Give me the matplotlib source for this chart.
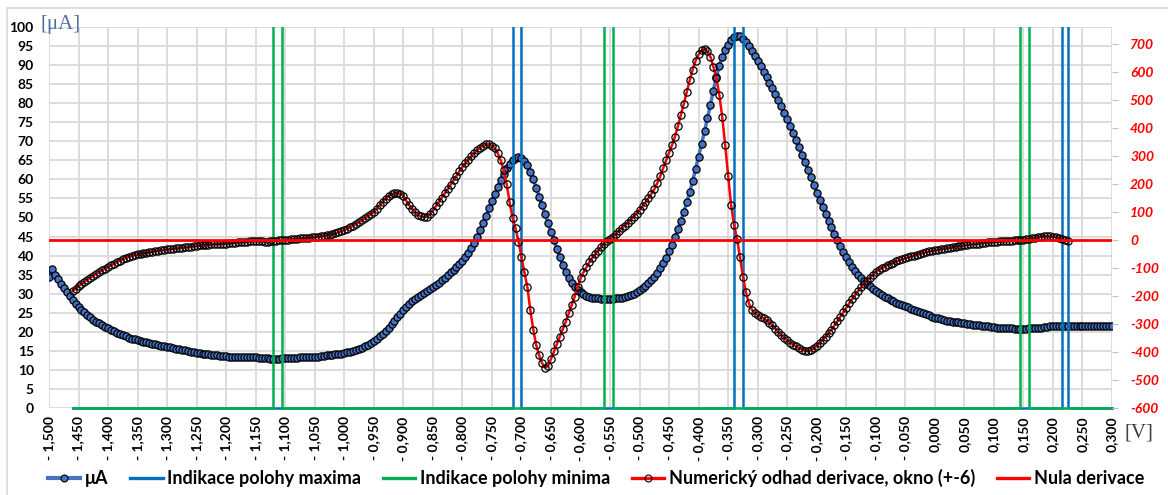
import numpy as np
import matplotlib.pyplot as plt
from matplotlib.lines import Line2D
from matplotlib.patches import Rectangle
from matplotlib.transforms import Bbox, TransformedBbox

plt.rcParams['font.family'] = ['Lato', 'DejaVu Sans']

# proud [uA], krok 5 mV od -1,500 V do 0,300 V
proud = [
    34.5, 36.5, 35.0, 33.8, 32.6, 31.5, 30.4, 29.3, 28.3, 27.4,   # -1.500
    26.6, 25.8, 25.1, 24.4, 23.8, 23.2, 22.7, 22.2, 21.7, 21.3,   # -1.450
    20.9, 20.5, 20.1, 19.7, 19.4, 19.1, 18.8, 18.5, 18.2, 18.0,   # -1.400
    17.8, 17.6, 17.4, 17.2, 17.0, 16.8, 16.7, 16.5, 16.3, 16.2,   # -1.350
    16.1, 15.9, 15.8, 15.6, 15.5, 15.3, 15.2, 15.0, 14.8, 14.7,   # -1.300
    14.5, 14.4, 14.3, 14.2, 14.1, 14.0, 13.9, 13.8, 13.7, 13.6,   # -1.250
    13.6, 13.5, 13.5, 13.5, 13.4, 13.4, 13.4, 13.4, 13.3, 13.3,   # -1.200
    13.3, 13.2, 13.1, 13.0, 13.0, 12.9, 12.9, 12.9, 12.9, 13.0,   # -1.150
    13.0, 13.1, 13.1, 13.2, 13.2, 13.3, 13.3, 13.3, 13.4, 13.4,   # -1.100
    13.4, 13.5, 13.6, 13.7, 13.8, 13.9, 14.0, 14.1, 14.2, 14.3,   # -1.050
    14.4, 14.6, 14.8, 15.0, 15.2, 15.5, 15.8, 16.2, 16.6, 17.0,   # -1.000
    17.5, 18.1, 18.8, 19.5, 20.3, 21.1, 22.0, 22.9, 23.8, 24.7,   # -0.950
    25.6, 26.5, 27.3, 28.0, 28.6, 29.2, 29.7, 30.2, 30.7, 31.2,   # -0.900
    31.7, 32.3, 32.9, 33.5, 34.2, 34.9, 35.6, 36.3, 37.1, 37.9,   # -0.850
    38.7, 39.7, 40.8, 42.0, 43.4, 45.0, 46.8, 48.6, 50.5, 52.4,   # -0.800
    54.3, 56.2, 58.1, 59.9, 61.5, 62.9, 64.1, 65.0, 65.6, 65.8,   # -0.750
    65.6, 64.9, 63.7, 62.0, 60.0, 57.8, 55.5, 53.2, 50.9, 48.6,   # -0.700
    46.3, 44.0, 41.8, 39.6, 37.6, 35.8, 34.2, 32.9, 31.8, 31.0,   # -0.650
    30.4, 29.9, 29.5, 29.2, 29.0, 28.9, 28.8, 28.7, 28.7, 28.6,   # -0.600
    28.6, 28.7, 28.8, 28.9, 29.0, 29.2, 29.4, 29.7, 30.0, 30.4,   # -0.550
    30.9, 31.4, 32.0, 32.7, 33.5, 34.4, 35.5, 36.7, 38.0, 39.5,   # -0.500
    41.1, 42.9, 44.9, 47.0, 49.2, 51.5, 54.0, 56.7, 59.6, 62.8,   # -0.450
    66.0, 69.3, 72.6, 76.1, 79.6, 83.3, 86.8, 89.8, 92.2, 94.0,   # -0.400
    95.4, 96.6, 97.4, 97.7, 97.6, 96.9, 96.0, 94.9, 93.6, 92.3,   # -0.350
    91.0, 89.7, 88.3, 86.9, 85.4, 83.9, 82.4, 80.8, 79.2, 77.5,   # -0.300
    75.8, 74.0, 72.2, 70.3, 68.4, 66.5, 64.5, 62.5, 60.5, 58.5,   # -0.250
    56.5, 54.6, 52.7, 50.9, 49.1, 47.4, 45.7, 44.1, 42.5, 41.0,   # -0.200
    39.6, 38.3, 37.1, 36.0, 35.0, 34.1, 33.3, 32.6, 31.9, 31.3,   # -0.150
    30.7, 30.2, 29.7, 29.2, 28.8, 28.4, 28.0, 27.6, 27.3, 27.0,   # -0.100
    26.7, 26.4, 26.1, 25.8, 25.5, 25.2, 24.9, 24.6, 24.3, 24.0,   # -0.050
    23.7, 23.5, 23.3, 23.1, 22.9, 22.8, 22.7, 22.6, 22.5, 22.4,   # 0.000
    22.3, 22.1, 22.0, 21.9, 21.8, 21.7, 21.6, 21.5, 21.4, 21.3,   # 0.050
    21.2, 21.1, 21.0, 21.0, 20.9, 20.9, 20.9, 20.8, 20.8, 20.8,   # 0.100
    20.8, 20.8, 20.9, 20.9, 21.0, 21.0, 21.1, 21.2, 21.3, 21.4,   # 0.150
    21.5, 21.6, 21.6, 21.6, 21.5, 21.5, 21.4, 21.4, 21.4, 21.4,   # 0.200
    21.4, 21.4, 21.4, 21.4, 21.5, 21.5, 21.5, 21.6, 21.6, 21.6,   # 0.250
    21.6,                                                         # 0.300
]

# numericky odhad derivace (okno +-6), od -1,460 V do 0,225 V
derivace = [
    -182, -174, -165, -157, -149, -141, -134, -127, -120, -114,   # -1.460
    -108, -102, -96, -90, -84, -78, -73, -68, -63, -59,           # -1.410
    -56, -53, -51, -49, -47, -45, -43, -41, -39, -37,             # -1.360
    -36, -34, -33, -32, -30, -29, -28, -27, -26, -24,             # -1.310
    -23, -21, -20, -19, -18, -17, -16, -15, -14, -13,             # -1.260
    -13, -12, -12, -11, -10, -9, -8, -7, -6, -5,                  # -1.210
    -4, -3, -2, -3, -4, -5, -5, -4, -3, -2,                       # -1.160
    -1, 0, 1, 2, 3, 4, 5, 6, 7, 8,                                # -1.110
    9, 10, 12, 13, 15, 16, 18, 20, 22, 25,                        # -1.060
    28, 32, 36, 41, 46, 52, 58, 64, 71, 78,                       # -1.010
    85, 93, 101, 113, 125, 137, 148, 157, 164, 168,               # -0.960
    169, 166, 159, 140, 125, 111, 99, 90, 85, 83,                 # -0.910
    84, 92, 106, 121, 137, 152, 167, 182, 198, 214,               # -0.860
    230, 246, 262, 275, 288, 300, 311, 321, 330, 337,             # -0.810
    342, 343, 338, 328, 310, 285, 250, 200, 135, 80,              # -0.760
    42, -5, -60, -115, -167, -250, -320, -375, -412, -440,        # -0.710
    -456, -450, -425, -398, -372, -345, -318, -292, -262, -232,   # -0.660
    -203, -168, -137, -115, -97, -78, -63, -50, -37, -24,         # -0.610
    -12, -4, 4, 12, 22, 32, 42, 52, 62, 73,                       # -0.560
    84, 95, 108, 121, 135, 150, 166, 182, 204, 228,               # -0.510
    258, 285, 312, 340, 370, 408, 448, 488, 530, 572,             # -0.460
    610, 642, 664, 678, 684, 676, 655, 620, 580, 520,             # -0.410
    440, 340, 230, 125, 55, 5, -60, -130, -185, -225,             # -0.360
    -248, -260, -267, -274, -280, -287, -295, -305, -316, -328,   # -0.310
    -340, -350, -358, -366, -373, -380, -386, -391, -395, -397,   # -0.260
    -394, -387, -378, -368, -357, -345, -333, -320, -305, -290,   # -0.210
    -274, -258, -242, -226, -210, -196, -182, -169, -157, -146,   # -0.160
    -135, -124, -114, -107, -101, -95, -89, -84, -80, -76,        # -0.110
    -72, -68, -65, -61, -58, -55, -52, -49, -46, -43,             # -0.060
    -40, -38, -36, -34, -32, -30, -29, -27, -25, -23,             # -0.010
    -21, -20, -18, -17, -15, -14, -13, -12, -10, -9,              # 0.040
    -8, -7, -6, -5, -4, -4, -3, -2, -2, -1,                       # 0.090
    0, 0, 1, 3, 5, 7, 9, 11, 13, 14,                              # 0.140
    14, 14, 13, 12, 9, 5, 1, -3,                                  # 0.190
]

krok = 0.005
napeti = -1.5 + krok * np.arange(len(proud))
napeti_der = -1.46 + krok * np.arange(len(derivace))

# indikace polohy maxim / minim (dvojice svislych car)
maxima = [(-0.715, -0.700), (-0.340, -0.325), (0.215, 0.225)]
minima = [(-1.120, -1.105), (-0.560, -0.545), (0.145, 0.160)]
ind_od, ind_do = -1.46, 0.3
ind_vyska = 101   # nad horni okraj, vodorovny kus se orizne


def indikace(pary):
    xs, ys = [ind_od], [0]
    for a, b in pary:
        xs += [a, a, b, b]
        ys += [0, ind_vyska, ind_vyska, 0]
    xs.append(ind_do)
    ys.append(0)
    return xs, ys


W, H = 1168, 495
fig = plt.figure(figsize=(W / 100, H / 100), dpi=100)
fig.patches.append(Rectangle((7 / W, -0.1), 1.2, 1.1 - 8 / H, transform=fig.transFigure,
                             fill=False, edgecolor='#d9d9d9', lw=1.2))

ax = fig.add_axes([49 / W, 1 - 408 / H, (1112 - 49) / W, (408 - 27) / H])
ax2 = ax.twinx()

# orez jen nahore (dolni cara na nule zustane cela)
orez = TransformedBbox(Bbox([[-0.01, -0.05], [1.01, 1.0]]), ax.transAxes)

modra = '#4472C4'
ax.plot(napeti, proud, color=modra, lw=2.5, marker='o', ms=5.2, mfc=modra,
        mec='black', mew=0.9, zorder=3)
xs, ys = indikace(maxima)
l1, = ax.plot(xs, ys, color='#0070C0', lw=1.8, zorder=4)
xs, ys = indikace(minima)
l2, = ax.plot(xs, ys, color='#00B050', lw=1.8, zorder=5)
for l in (l1, l2):
    l.set_clip_box(orez)

ax2.plot(napeti_der, derivace, color='#FF0000', lw=1.8, marker='o', ms=5.2,
         mfc='none', mec='black', mew=0.9, zorder=3)
ax2.plot([-1.5, 0.3], [0, 0], color='#FF0000', lw=2.0, zorder=4)

# osy
ax.set_xlim(-1.5, 0.3)
ax.set_ylim(0, 100)
ax2.set_ylim(-600, 762)

xt = np.round(np.arange(-1.5, 0.3001, 0.05), 3)
ax.set_xticks(xt)
ax.set_xticklabels([('- ' if v < 0 else '') + f'{abs(v):.3f}'.replace('.', ',') for v in xt],
                   rotation=90, fontweight='bold', fontsize=10)
ax.set_yticks(np.arange(0, 101, 5))
ax.set_yticklabels([str(v) for v in range(0, 101, 5)], fontweight='bold', fontsize=10)
ax.tick_params(axis='x', length=0, pad=6)
ax.tick_params(axis='y', length=0, pad=11)
ax.grid(True, color='#d9d9d9', lw=1.3)
ax.set_axisbelow(True)

ax2.set_yticks(np.arange(-600, 701, 100))
ax2.set_yticklabels([str(v) for v in range(-600, 701, 100)], color='#FF0000',
                    fontweight='bold', fontstyle='italic', fontsize=10)
ax2.tick_params(axis='y', length=4, color='#bfbfbf', pad=9)

for a in (ax, ax2):
    for s in a.spines.values():
        s.set_visible(False)

fig.text(40 / W, 1 - 25 / H, '[μA]', family='Liberation Serif', fontsize=15,
         color='#4F6FA0', va='center', ha='left')
fig.text(1124 / W, 1 - 433 / H, '[V]', family='Liberation Serif', fontsize=15,
         color='#404040', va='center', ha='left')

handles = [
    Line2D([], [], color=modra, lw=3, marker='o', ms=5, mfc=modra, mec='black', mew=0.8),
    Line2D([], [], color='#0070C0', lw=2.4),
    Line2D([], [], color='#00B050', lw=2.4),
    Line2D([], [], color='#FF0000', lw=2.4, marker='o', ms=5, mfc='none', mec='black', mew=0.8),
    Line2D([], [], color='#FF0000', lw=2.4),
]
labels = ['μA', 'Indikace polohy maxima', 'Indikace polohy minima',
          'Numerický odhad derivace, okno (+-6)', 'Nula derivace']
fig.legend(handles, labels, loc='center', bbox_to_anchor=(596 / W, 1 - 478 / H), ncol=5,
           frameon=False, prop=dict(weight='bold', size=13), handlelength=1.8,
           handletextpad=0.25, columnspacing=1.2, borderpad=0.2)

fig.savefig('out.png', dpi=100)
